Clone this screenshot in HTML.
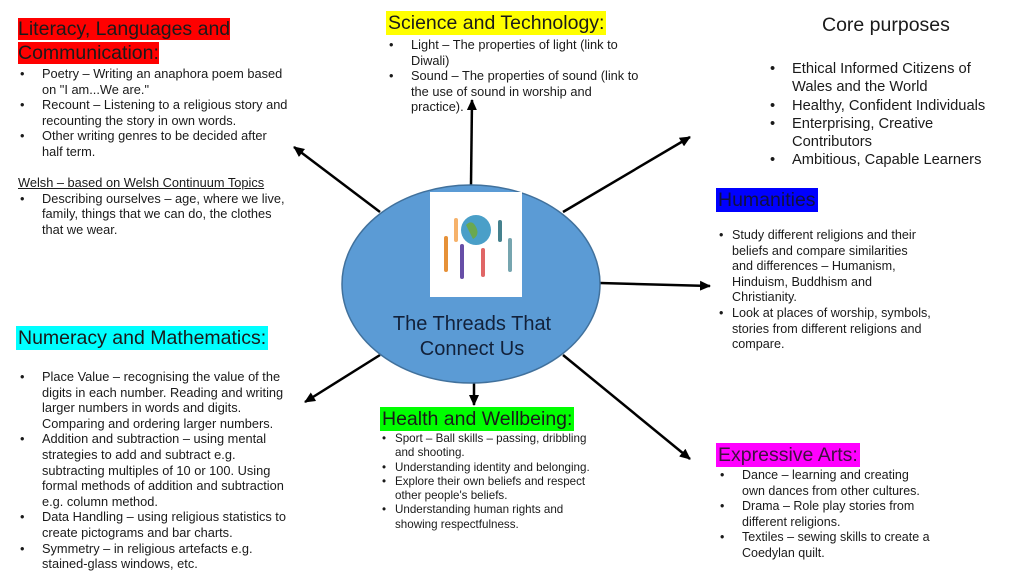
<!DOCTYPE html>
<html><head><meta charset="utf-8">
<style>
body{margin:0;width:1024px;height:576px;background:#fff;position:relative;overflow:hidden;font-family:"Liberation Sans",sans-serif;color:#1a1a1a}
.a{position:absolute;white-space:nowrap}
.h{font-size:19.5px;line-height:24px;padding:0 2px}
.b{position:absolute;font-size:12.8px;line-height:15.6px;white-space:nowrap}
.b div{position:relative}
.b .d{position:absolute;left:-22px}
</style></head><body>
<svg width="1024" height="576" style="position:absolute;left:0;top:0">
<defs><marker id="m" markerWidth="11" markerHeight="10" refX="10" refY="5" orient="auto" markerUnits="userSpaceOnUse"><path d="M0,0 L11,5 L0,10z" fill="#000"/></marker></defs>
<g stroke="#000" stroke-width="2.5" marker-end="url(#m)">
<line x1="380" y1="212" x2="294" y2="147"/>
<line x1="471" y1="185" x2="472" y2="100"/>
<line x1="563" y1="212" x2="690" y2="137"/>
<line x1="600" y1="283" x2="710" y2="286"/>
<line x1="380" y1="355" x2="305" y2="402"/>
<line x1="474" y1="383" x2="474" y2="405"/>
<line x1="563" y1="355" x2="690" y2="459"/>
</g>
<ellipse cx="471" cy="284" rx="129" ry="99" fill="#5b9bd5" stroke="#41719c" stroke-width="1.5"/>
<rect x="430" y="192" width="92" height="105" fill="#fff"/>
<circle cx="476" cy="230" r="15" fill="#4a9fc8"/><path d="M466,225 q6,-6 10,2 q4,8 -3,12z" fill="#6aa84f"/>
<g stroke-width="4" stroke-linecap="round">
<line x1="446" y1="238" x2="446" y2="270" stroke="#e69138"/>
<line x1="462" y1="246" x2="462" y2="277" stroke="#674ea7"/>
<line x1="483" y1="250" x2="483" y2="275" stroke="#e06666"/>
<line x1="510" y1="240" x2="510" y2="270" stroke="#76a5af"/>
<line x1="456" y1="220" x2="456" y2="240" stroke="#f6b26b"/>
<line x1="500" y1="222" x2="500" y2="240" stroke="#45818e"/>
</g>
</svg>
<div class="a" style="left:343px;top:312px;width:258px;text-align:center;font-size:20px;line-height:25px;color:#12213a">The Threads That<br>Connect Us</div>

<div class="a h" style="left:16px;top:17px;"><span style="background:#ff0000">Literacy, Languages and</span><br><span style="background:#ff0000">Communication:</span></div>
<div class="b" style="left:42px;top:66px">
<div><span class="d">•</span>Poetry – Writing an anaphora poem based</div><div>on "I am...We are."</div>
<div><span class="d">•</span>Recount – Listening to a religious story and</div><div>recounting the story in own words.</div>
<div><span class="d">•</span>Other writing genres to be decided after</div><div>half term.</div>
<div>&nbsp;</div>
<div style="left:-24px;text-decoration:underline">Welsh – based on Welsh Continuum Topics</div>
<div><span class="d">•</span>Describing ourselves – age, where we live,</div><div>family, things that we can do, the clothes</div><div>that we wear.</div>
</div>

<div class="a h" style="left:386px;top:11px;background:#ffff00">Science and Technology:</div>
<div class="b" style="left:411px;top:37px">
<div><span class="d">•</span>Light – The properties of light (link to</div><div>Diwali)</div>
<div><span class="d">•</span>Sound – The properties of sound (link to</div><div>the use of sound in worship and</div><div>practice).</div>
</div>

<div class="a" style="left:822px;top:13px;font-size:19.5px;line-height:24px">Core purposes</div>
<div class="b" style="left:792px;top:60px;font-size:14.7px;line-height:18.3px">
<div><span class="d">•</span>Ethical Informed Citizens of</div><div>Wales and the World</div>
<div><span class="d">•</span>Healthy, Confident Individuals</div>
<div><span class="d">•</span>Enterprising, Creative</div><div>Contributors</div>
<div><span class="d">•</span>Ambitious, Capable Learners</div>
</div>

<div class="a h" style="left:716px;top:188px;background:#0000ff;color:#101040">Humanities</div>
<div class="b" style="left:732px;top:228px;font-size:12.6px">
<div><span class="d" style="left:-13px">•</span>Study different religions and their</div><div>beliefs and compare similarities</div><div>and differences – Humanism,</div><div>Hinduism, Buddhism and</div><div>Christianity.</div>
<div><span class="d" style="left:-13px">•</span>Look at places of worship, symbols,</div><div>stories from different religions and</div><div>compare.</div>
</div>

<div class="a h" style="left:16px;top:326px;background:#00ffff">Numeracy and Mathematics:</div>
<div class="b" style="left:42px;top:369px">
<div><span class="d">•</span>Place Value – recognising the value of the</div><div>digits in each number. Reading and writing</div><div>larger numbers in words and digits.</div><div>Comparing and ordering larger numbers.</div>
<div><span class="d">•</span>Addition and subtraction – using mental</div><div>strategies to add and subtract e.g.</div><div>subtracting multiples of 10 or 100. Using</div><div>formal methods of addition and subtraction</div><div>e.g. column method.</div>
<div><span class="d">•</span>Data Handling – using religious statistics to</div><div>create pictograms and bar charts.</div>
<div><span class="d">•</span>Symmetry – in religious artefacts e.g.</div><div>stained-glass windows, etc.</div>
</div>

<div class="a h" style="left:380px;top:407px;background:#00ff00">Health and Wellbeing:</div>
<div class="b" style="left:395px;top:432px;font-size:11.6px;line-height:14.3px">
<div><span class="d" style="left:-13px">•</span>Sport – Ball skills – passing, dribbling</div><div>and shooting.</div>
<div><span class="d" style="left:-13px">•</span>Understanding identity and belonging.</div>
<div><span class="d" style="left:-13px">•</span>Explore their own beliefs and respect</div><div>other people's beliefs.</div>
<div><span class="d" style="left:-13px">•</span>Understanding human rights and</div><div>showing respectfulness.</div>
</div>

<div class="a h" style="left:716px;top:443px;background:#ff00ff;color:#401040">Expressive Arts:</div>
<div class="b" style="left:742px;top:468px;font-size:12.5px">
<div><span class="d">•</span>Dance – learning and creating</div><div>own dances from other cultures.</div>
<div><span class="d">•</span>Drama – Role play stories from</div><div>different religions.</div>
<div><span class="d">•</span>Textiles – sewing skills to create a</div><div>Coedylan quilt.</div>
</div>
</body></html>
